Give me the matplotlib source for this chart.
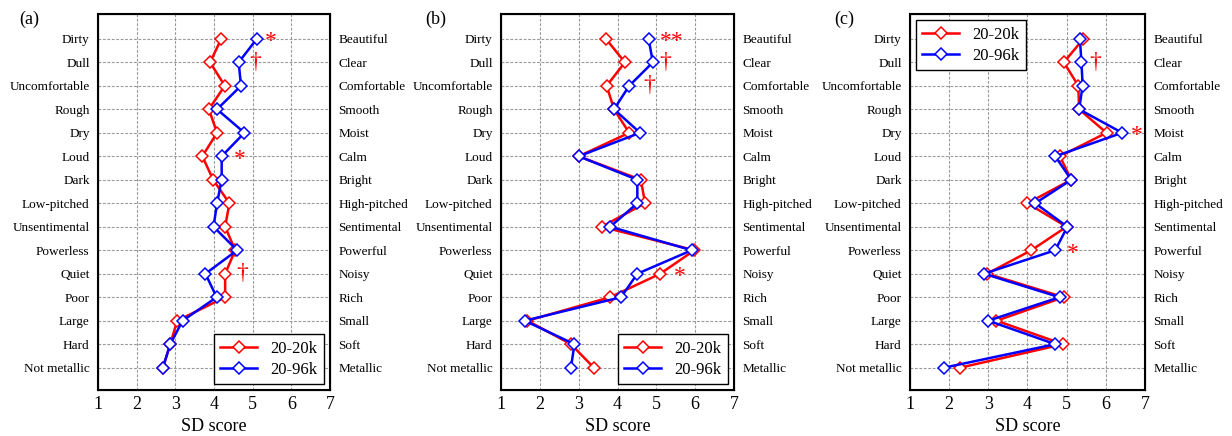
import matplotlib.pyplot as plt

plt.rcParams['font.family'] = ['Liberation Serif', 'DejaVu Serif']

left_labels = ['Dirty', 'Dull', 'Uncomfortable', 'Rough', 'Dry', 'Loud', 'Dark',
               'Low-pitched', 'Unsentimental', 'Powerless', 'Quiet', 'Poor',
               'Large', 'Hard', 'Not metallic']
right_labels = ['Beautiful', 'Clear', 'Comfortable', 'Smooth', 'Moist', 'Calm',
                'Bright', 'High-pitched', 'Sentimental', 'Powerful', 'Noisy',
                'Rich', 'Small', 'Soft', 'Metallic']

# SD scores, one value per adjective pair (top to bottom)
a_20k = [4.19, 3.90, 4.28, 3.87, 4.08, 3.70, 3.98, 4.40, 4.29, 4.55, 4.29, 4.29, 3.05, 2.87, 2.68]
a_96k = [5.11, 4.64, 4.70, 4.08, 4.79, 4.20, 4.20, 4.08, 3.99, 4.60, 3.78, 4.07, 3.19, 2.87, 2.68]

b_20k = [3.70, 4.19, 3.72, 3.91, 4.30, 3.00, 4.60, 4.71, 3.59, 5.98, 5.10, 3.81, 1.68, 2.80, 3.39]
b_96k = [4.80, 4.91, 4.30, 3.91, 4.58, 3.00, 4.51, 4.51, 3.81, 5.91, 4.51, 4.09, 1.61, 2.89, 2.80]

c_20k = [5.43, 4.93, 5.30, 5.32, 6.02, 4.83, 5.12, 4.00, 5.00, 4.10, 2.97, 4.93, 3.21, 4.91, 2.28]
c_96k = [5.34, 5.38, 5.41, 5.32, 6.42, 4.71, 5.12, 4.20, 5.02, 4.71, 2.89, 4.82, 3.00, 4.71, 1.87]

# significance marks: (row index, x position, symbol)
a_marks = [(0, 5.48, '*'), (1, 5.07, '†'), (5, 4.66, '*'), (10, 4.74, '†')]
b_marks = [(0, 5.40, '**'), (1, 5.23, '†'), (2, 4.82, '†'), (10, 5.60, '*')]
c_marks = [(1, 5.74, '†'), (4, 6.80, '*'), (9, 5.17, '*')]

panels = [
    ('(a)', a_20k, a_96k, a_marks, 'lower right', [0.0795, 0.1055, 0.1883, 0.862], 0.016),
    ('(b)', b_20k, b_96k, b_marks, 'lower right', [0.4067, 0.1055, 0.1891, 0.862], 0.345),
    ('(c)', c_20k, c_96k, c_marks, 'upper left', [0.7386, 0.1055, 0.1907, 0.862], 0.677),
]

fig = plt.figure(figsize=(12.32, 4.36), dpi=100)
rows = list(range(len(left_labels)))

for tag, s20, s96, marks, loc, rect, tag_x in panels:
    ax = fig.add_axes(rect)
    ax.plot(s20, rows, color='red', lw=1.8, marker='D', ms=6.5,
            mfc='white', mec='red', mew=1.1, label='20-20k', zorder=3)
    ax.plot(s96, rows, color='blue', lw=1.8, marker='D', ms=6.5,
            mfc='white', mec='blue', mew=1.1, label='20-96k', zorder=4)
    for r, x, sym in marks:
        if sym == '†':
            ax.text(x, r, sym, color='red', fontsize=17, ha='center', va='center')
        else:
            ax.text(x, r + 0.12, sym, color='red', fontsize=17, ha='center', va='center')

    ax.set_xlim(1, 7)
    ax.set_ylim(14.95, -1.05)
    ax.set_xticks(range(1, 8))
    ax.set_yticks(rows)
    ax.set_yticklabels(left_labels, fontsize=9.5)
    ax.tick_params(axis='x', labelsize=13, length=0, pad=4)
    ax.tick_params(axis='y', length=0, pad=6)
    ax.grid(True, color='#999999', linestyle=(0, (2.5, 1.5)), lw=0.8)
    ax.set_axisbelow(True)
    for sp in ax.spines.values():
        sp.set_linewidth(1.5)
    ax.set_xlabel('SD score', fontsize=13, labelpad=4)

    ax2 = ax.twinx()
    ax2.set_ylim(ax.get_ylim())
    ax2.set_yticks(rows)
    ax2.set_yticklabels(right_labels, fontsize=9.5)
    ax2.tick_params(axis='y', length=0, pad=6)

    leg = ax.legend(loc=loc, fontsize=12, fancybox=False, edgecolor='black',
                    framealpha=1, handlelength=2.2, borderpad=0.4,
                    labelspacing=0.3, borderaxespad=0.35)
    leg.get_frame().set_linewidth(1.0)
    leg.set_zorder(10)

    fig.text(tag_x, 0.955, tag, fontsize=13, ha='left', va='center')

fig.savefig('out.png', dpi=100)
